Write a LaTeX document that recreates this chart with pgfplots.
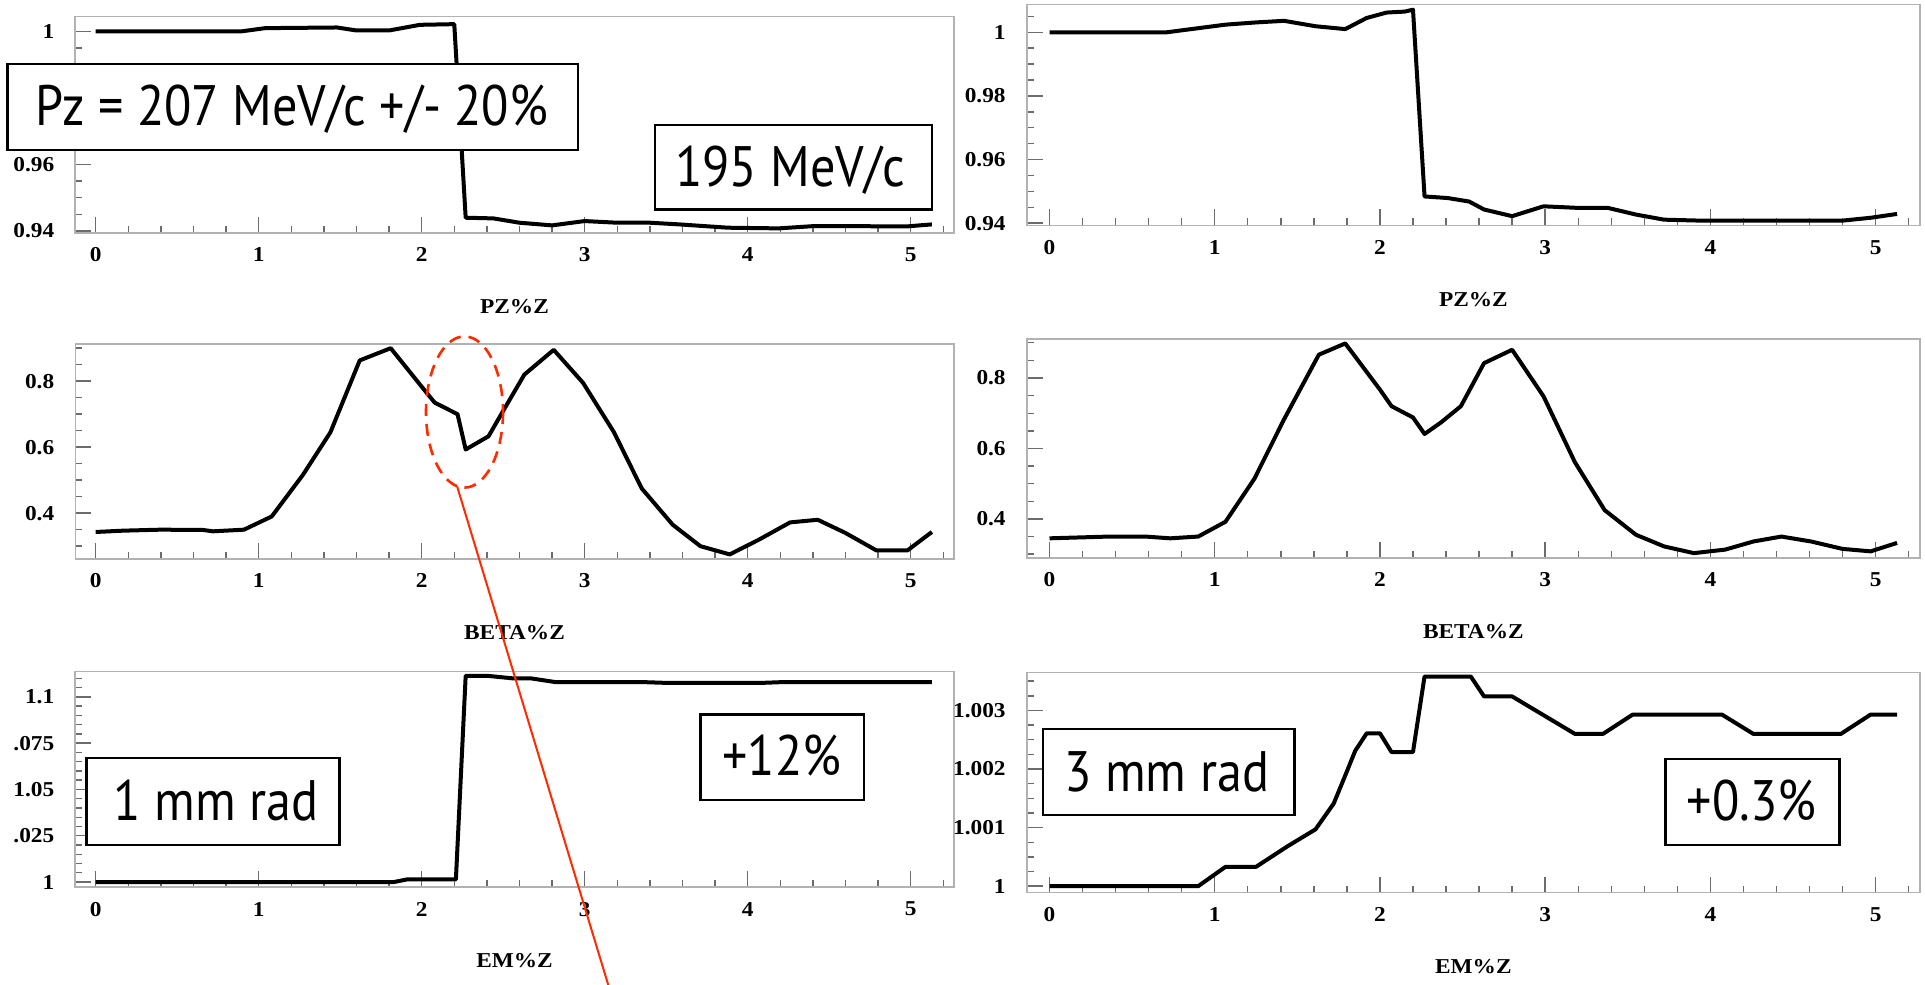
\documentclass[border=0pt]{standalone}
\usepackage{fontspec}
\setmainfont{Liberation Serif}[FakeStretch=1.1]
\newfontfamily\gill{PT Sans}[FakeStretch=0.88]
\usepackage{pgfplots}
\pgfplotsset{compat=1.18}
\definecolor{annred}{HTML}{FF2A00}

\pgfplotsset{
  paw/.style={
    scale only axis,
    axis line style={draw=gray!60, line width=0.8pt},
    tick align=inside,
    tick pos=left,
    major tick length=8pt, minor tick length=3.5pt,
    tick style={gray!85!black, line width=0.7pt},
    xtick={0,1,2,3,4,5}, xticklabels={0,1,2,3,4,5},
    minor xtick={0.2,0.4,0.6,0.8,1.2,1.4,1.6,1.8,2.2,2.4,2.6,2.8,3.2,3.4,3.6,3.8,4.2,4.4,4.6,4.8,5.2},
    tick label style={font=\bfseries\fontsize{10.6}{12}\selectfont},
    xticklabel style={yshift=-4pt},
    yticklabel style={xshift=-7pt},
    xlabel style={at={(axis description cs:0.5,0)}, anchor=center, yshift=-37pt,
      font=\bfseries\fontsize{10.6}{12}\selectfont},
    no markers,
    cycle list={{black}},
    every axis plot/.append style={line width=2pt, line join=round},
  },
  lcol/.style={paw, width=439.2pt, xmin=-0.125, xmax=5.264, anchor=south west},
  rcol/.style={paw, width=446.65pt, xmin=-0.138, xmax=5.269, anchor=south west},
}

\begin{document}
\begin{tikzpicture}
\begin{scope}[x=0.5pt,y=-0.5pt]
  \coordinate (tl) at (75.3,232.7);
  \coordinate (tr) at (1026.7,225.4);
  \coordinate (ml) at (75.3,558.7);
  \coordinate (mr) at (1026.7,557.7);
  \coordinate (bl) at (75.3,887);
  \coordinate (br) at (1026.7,892.6);
\end{scope}

% top left: PZ, 1 mm (the 0.98 label sits under the Pz box)
\begin{axis}[lcol, at={(tl)}, height=108.1pt, ymin=0.9395, ymax=1.0045,
  ytick={0.94,0.96,0.98,1}, yticklabels={0.94,0.96,{},1},
  minor ytick={0.945,0.95,0.955,0.965,0.97,0.975,0.985,0.99,0.995},
  xlabel={PZ\%Z}]
\addplot coordinates {
 (0,1.0) (0.89,1.0) (1.04,1.001) (1.48,1.0012) (1.6,1.0003) (1.8,1.0003)
 (1.99,1.002) (2.2,1.0022) (2.27,0.944) (2.44,0.9438) (2.6,0.9425) (2.8,0.9417)
 (3.0,0.943) (3.2,0.9425) (3.4,0.9425) (3.58,0.942) (3.88,0.941) (4.19,0.9408)
 (4.41,0.9415) (4.98,0.9414) (5.13,0.942)
};
\end{axis}

% top right: PZ, 3 mm
\begin{axis}[rcol, at={(tr)}, height=110.4pt, ymin=0.9393, ymax=1.0087,
  ytick={0.94,0.96,0.98,1}, yticklabels={0.94,0.96,0.98,1},
  minor ytick={0.945,0.95,0.955,0.965,0.97,0.975,0.985,0.99,0.995,1.005},
  xlabel={PZ\%Z}]
\addplot coordinates {
 (0,1.0) (0.71,1.0) (1.065,1.0024) (1.25,1.0031) (1.42,1.0036) (1.61,1.0019)
 (1.79,1.001) (1.92,1.0045) (2.04,1.0062) (2.15,1.0065) (2.2,1.0071) (2.27,0.9484)
 (2.41,0.9479) (2.54,0.9468) (2.63,0.9443) (2.8,0.9422) (2.99,0.9453) (3.2,0.9448)
 (3.38,0.9448) (3.55,0.9427) (3.72,0.9411) (3.94,0.9408) (4.8,0.9408) (4.97,0.9417)
 (5.13,0.9429)
};
\end{axis}

% middle left: BETA, 1 mm
\begin{axis}[lcol, at={(ml)}, height=107.4pt, ymin=0.262, ymax=0.913,
  ytick={0.4,0.6,0.8}, yticklabels={0.4,0.6,0.8},
  minor ytick={0.3,0.35,0.45,0.5,0.55,0.65,0.7,0.75,0.85,0.9},
  xlabel={BETA\%Z}]
\addplot coordinates {
 (0,0.343) (0.17,0.347) (0.4,0.35) (0.66,0.349) (0.72,0.345) (0.91,0.35)
 (1.08,0.39) (1.27,0.515) (1.44,0.645) (1.62,0.863) (1.81,0.9) (2.03,0.765)
 (2.08,0.735) (2.22,0.7) (2.27,0.593) (2.41,0.633) (2.5,0.71) (2.63,0.82)
 (2.81,0.895) (2.99,0.795) (3.18,0.645) (3.35,0.475) (3.54,0.365) (3.71,0.3)
 (3.89,0.275) (4.07,0.32) (4.26,0.372) (4.43,0.38) (4.6,0.34) (4.79,0.287)
 (4.98,0.287) (5.13,0.343)
};
\end{axis}

% middle right: BETA, 3 mm
\begin{axis}[rcol, at={(mr)}, height=109.25pt, ymin=0.29, ymax=0.91,
  ytick={0.4,0.6,0.8}, yticklabels={0.4,0.6,0.8},
  minor ytick={0.3,0.35,0.45,0.5,0.55,0.65,0.7,0.75,0.85,0.9},
  xlabel={BETA\%Z}]
\addplot coordinates {
 (0,0.345) (0.36,0.35) (0.58,0.35) (0.73,0.345) (0.9,0.35) (1.065,0.392)
 (1.24,0.514) (1.42,0.683) (1.63,0.866) (1.79,0.898) (2.0,0.767) (2.07,0.72)
 (2.2,0.688) (2.27,0.641) (2.37,0.674) (2.49,0.72) (2.63,0.842) (2.8,0.88)
 (2.99,0.748) (3.18,0.561) (3.36,0.425) (3.55,0.355) (3.72,0.322) (3.9,0.303)
 (4.09,0.313) (4.26,0.336) (4.43,0.35) (4.61,0.336) (4.8,0.315) (4.97,0.308)
 (5.13,0.332)
};
\end{axis}

% bottom left: EM, 1 mm
\begin{axis}[lcol, at={(bl)}, height=107.75pt, ymin=0.9973, ymax=1.1137,
  ytick={1,1.025,1.05,1.075,1.1}, yticklabels={1,1.025,1.05,1.075,1.1},
  minor ytick={1.005,1.01,1.015,1.02,1.03,1.035,1.04,1.045,1.055,1.06,1.065,1.07,
    1.08,1.085,1.09,1.095,1.105,1.11},
  xlabel={EM\%Z}]
\addplot coordinates {
 (0,1.0) (1.83,1.0) (1.91,1.0014) (2.21,1.0014) (2.27,1.1114) (2.4,1.1114)
 (2.56,1.110) (2.67,1.110) (2.82,1.108) (3.35,1.108) (3.52,1.1075) (4.07,1.1075)
 (4.22,1.108) (5.13,1.108)
};
\end{axis}

% bottom right: EM, 3 mm
\begin{axis}[rcol, at={(br)}, height=110.1pt, ymin=0.99989, ymax=1.00365,
  ytick={1,1.001,1.002,1.003}, yticklabels={1,1.001,1.002,1.003},
  minor ytick={1.00025,1.0005,1.00075,1.00125,1.0015,1.00175,1.00225,1.0025,1.00275,
    1.00325,1.0035},
  xlabel={EM\%Z}]
\addplot coordinates {
 (0,1.0) (0.9,1.0) (1.065,1.00033) (1.25,1.00033) (1.44,1.00068) (1.61,1.00097)
 (1.72,1.00141) (1.79,1.00189) (1.85,1.00231) (1.92,1.00261) (2.0,1.00261)
 (2.07,1.00229) (2.2,1.00229) (2.27,1.00358) (2.55,1.00358) (2.63,1.00324)
 (2.8,1.00324) (3.18,1.0026) (3.35,1.0026) (3.53,1.00293) (4.07,1.00293)
 (4.26,1.0026) (4.79,1.0026) (4.97,1.00293) (5.13,1.00293)
};
\end{axis}

% slide annotations, in pixel units of the slide
\begin{scope}[x=0.5pt,y=-0.5pt, every node/.style={inner sep=0pt, font=\gill\fontsize{28.5}{30}\selectfont}]
  \fill[white] (0,0) rectangle (14,984);
  \tikzset{lbl/.style={draw=black, fill=white, line width=1.2pt}}
  \path[lbl] (7.4,64) rectangle (578,150);
  \node[anchor=base] at (292,125.4) {Pz = 207 MeV/c +/- 20\%};
  \path[lbl] (655,125) rectangle (932,209.6);
  \node[anchor=base] at (790,187) {195 MeV/c};
  \path[lbl] (86.4,758.2) rectangle (339.5,844.7);
  \node[anchor=base] at (216,820) {1 mm rad};
  \path[lbl] (700.6,714.4) rectangle (864.2,800.2);
  \node[anchor=base] at (782,775.4) {+12\%};
  \path[lbl] (1043,729.2) rectangle (1294.6,815);
  \node[anchor=base] at (1166.8,791.3) {3 mm rad};
  \path[lbl] (1665.6,759) rectangle (1839.6,844.7);
  \node[anchor=base] at (1751.5,820) {+0.3\%};
  \draw[annred, line width=1.3pt, dash pattern=on 6pt off 4pt]
    (464.5,412) ellipse [x radius=38.5, y radius=75.6];
  \draw[annred, line width=1pt] (457,486) -- (611,994);
\end{scope}

\pgfresetboundingbox
\begin{scope}[x=0.5pt,y=-0.5pt]
  \path[use as bounding box] (0,0) rectangle (1925,984);
\end{scope}
\end{tikzpicture}
\end{document}
